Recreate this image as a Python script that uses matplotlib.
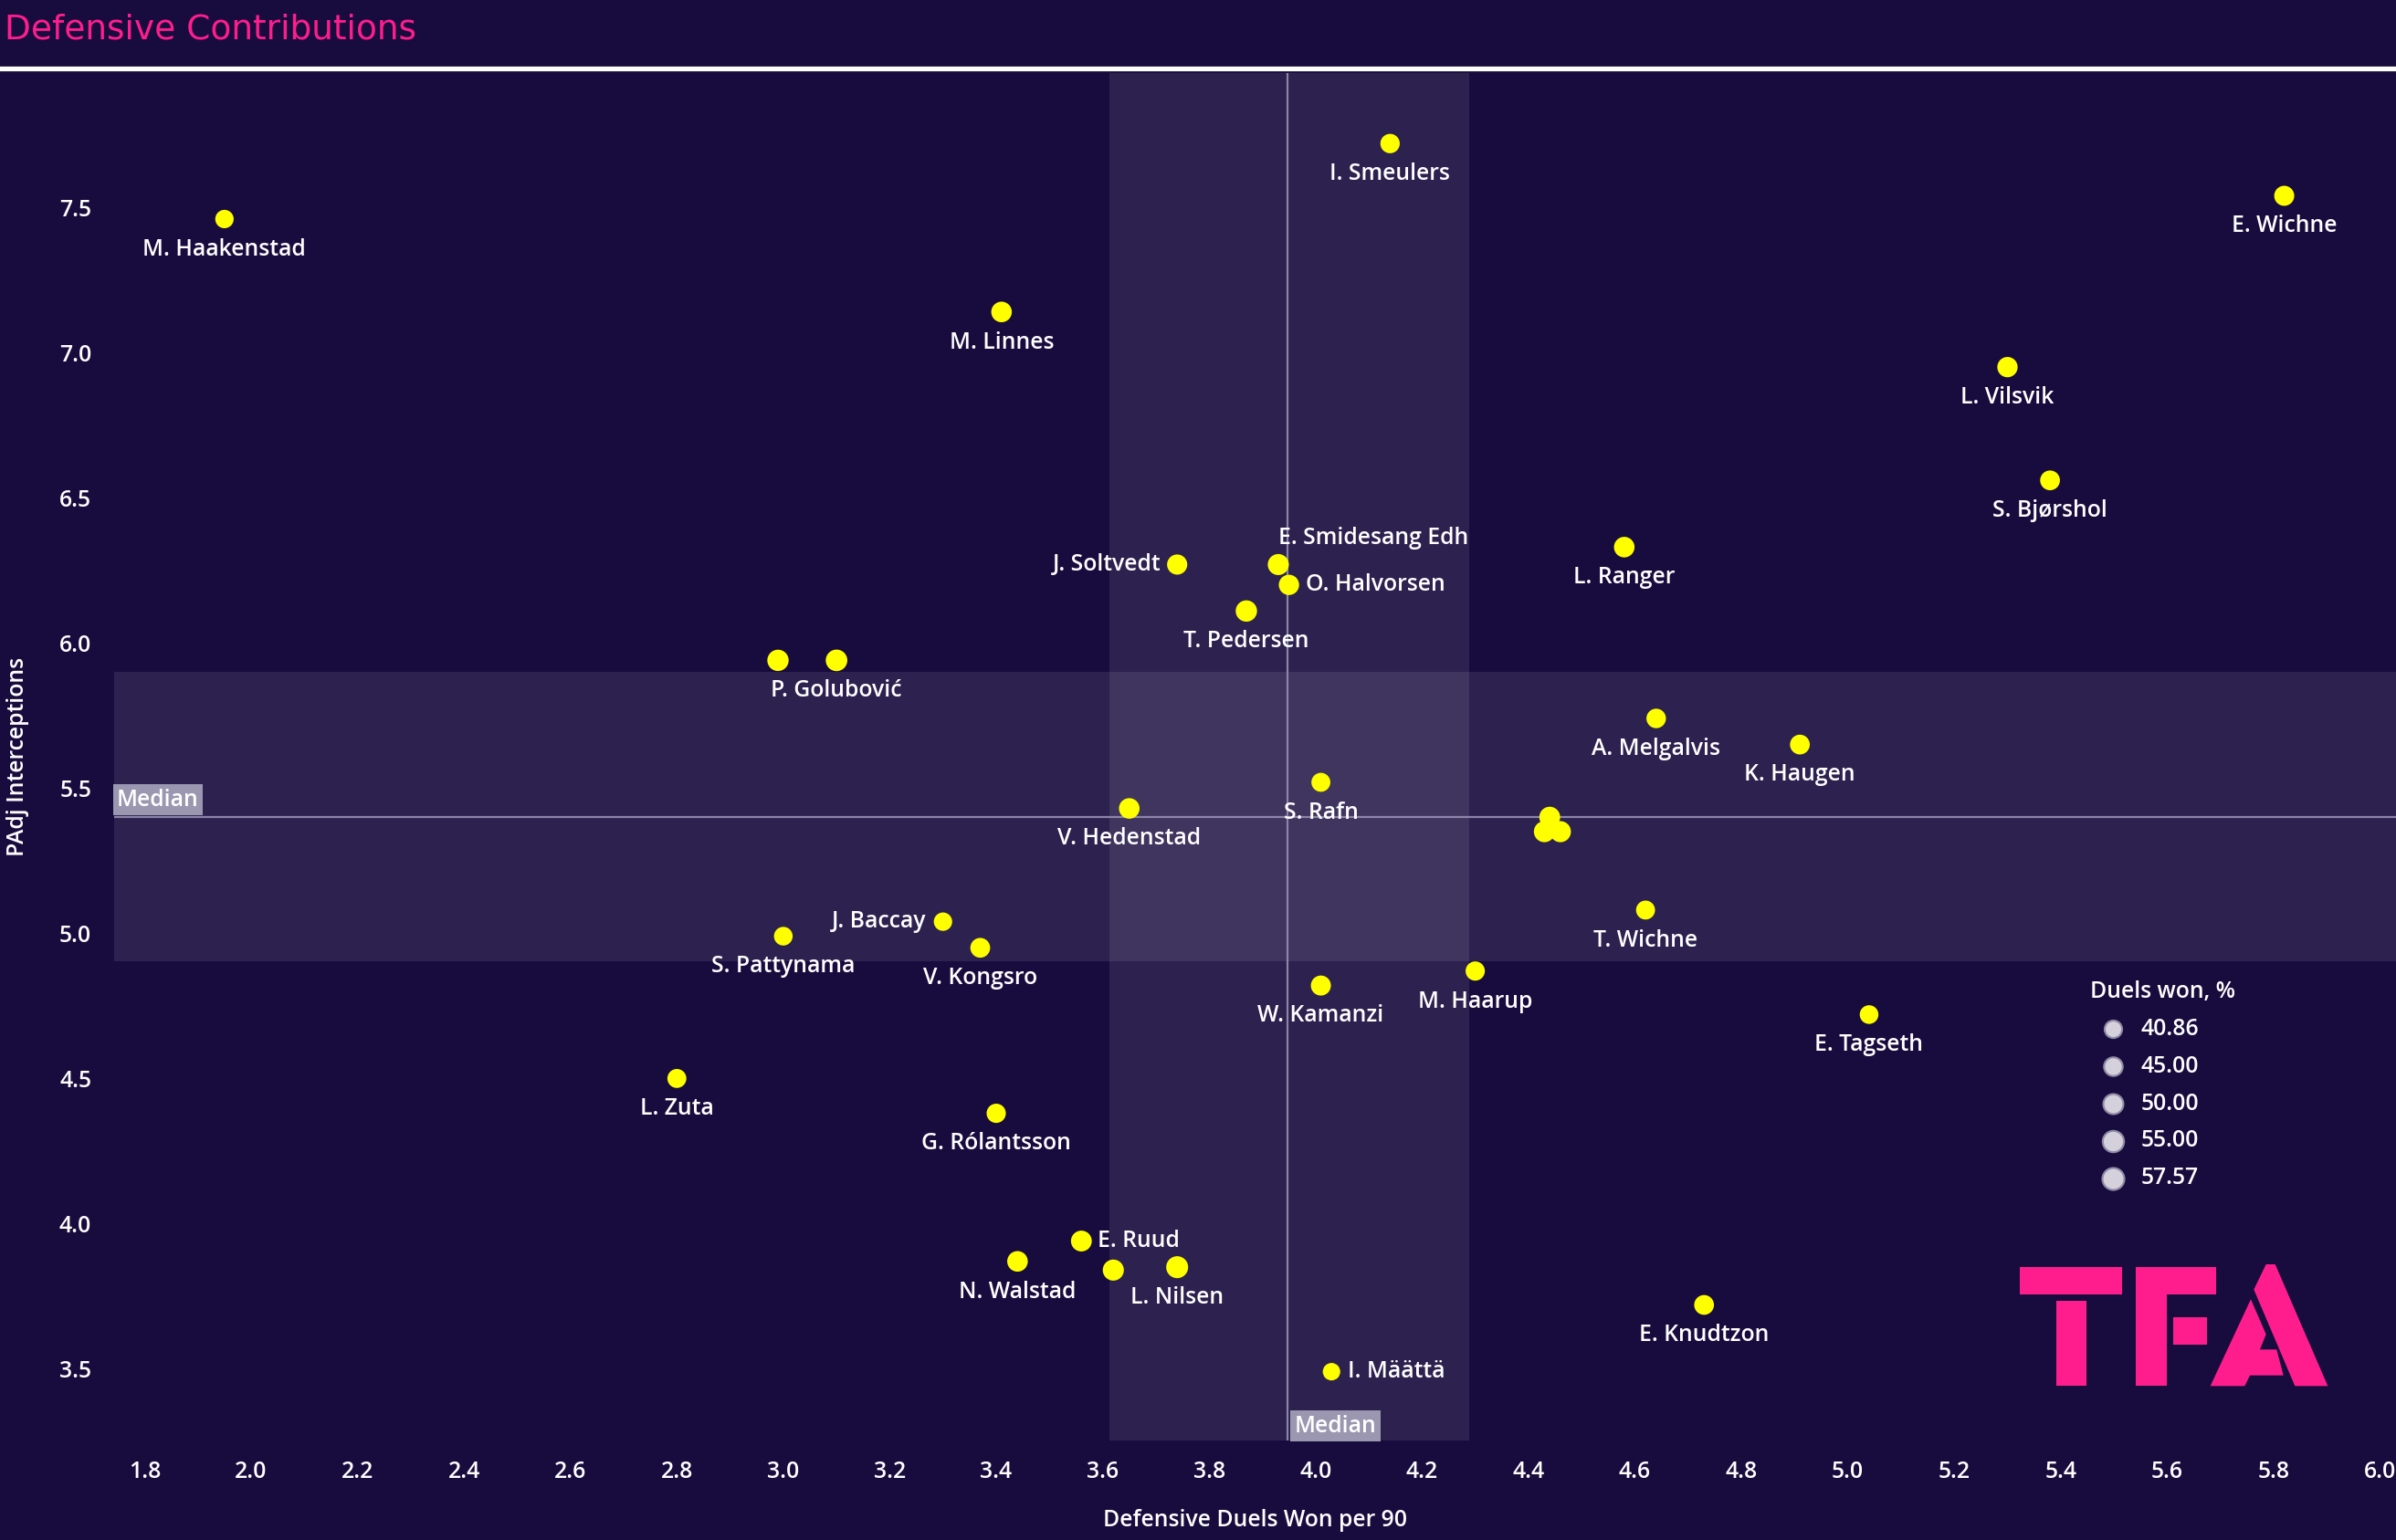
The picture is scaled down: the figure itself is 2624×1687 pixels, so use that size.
import numpy as np
import matplotlib.pyplot as plt
from matplotlib.patches import Polygon

BG = '#180c3e'
PINK = '#ff1d8e'
plt.rcParams['font.family'] = ['Open Sans', 'Noto Sans', 'DejaVu Sans']
W = 'semibold'

# player data
players = ['M. Haakenstad', 'I. Smeulers', 'E. Wichne', 'M. Linnes', 'L. Vilsvik',
           'S. Bjørshol', 'L. Ranger', 'J. Soltvedt', 'E. Smidesang Edh', 'O. Halvorsen',
           'T. Pedersen', '', 'P. Golubović', 'A. Melgalvis', 'K. Haugen',
           'S. Rafn', 'V. Hedenstad', '', '', '',
           'J. Baccay', 'S. Pattynama', 'V. Kongsro', 'T. Wichne', 'W. Kamanzi',
           'M. Haarup', 'E. Tagseth', 'L. Zuta', 'G. Rólantsson', 'E. Ruud',
           'N. Walstad', 'L. Nilsen', '', 'E. Knudtzon', 'I. Määttä']
duels_won_90 = [1.95, 4.14, 5.82, 3.41, 5.30,
                5.38, 4.58, 3.74, 3.93, 3.95,
                3.87, 2.99, 3.10, 4.64, 4.91,
                4.01, 3.65, 4.44, 4.43, 4.46,
                3.30, 3.00, 3.37, 4.62, 4.01,
                4.30, 5.04, 2.80, 3.40, 3.56,
                3.44, 3.74, 3.62, 4.73, 4.03]
interceptions = [7.46, 7.72, 7.54, 7.14, 6.95,
                 6.56, 6.33, 6.27, 6.27, 6.20,
                 6.11, 5.94, 5.94, 5.74, 5.65,
                 5.52, 5.43, 5.40, 5.35, 5.35,
                 5.04, 4.99, 4.95, 5.08, 4.82,
                 4.87, 4.72, 4.50, 4.38, 3.94,
                 3.87, 3.85, 3.84, 3.72, 3.49]
duels_won_pct = [44.0, 47.5, 50.0, 52.0, 51.0,
                 49.0, 52.0, 50.5, 54.0, 51.0,
                 55.0, 55.0, 56.0, 48.0, 49.0,
                 46.0, 52.0, 53.0, 54.0, 54.0,
                 44.0, 45.0, 49.0, 46.0, 50.0,
                 47.0, 45.0, 46.0, 47.0, 53.0,
                 52.0, 57.57, 54.0, 49.0, 40.86]
# label placement: b = below, r = right, l = left, a = above
label_pos = ['b', 'b', 'b', 'b', 'b',
             'b', 'b', 'l', 'a', 'r',
             'b', 'b', 'b', 'b', 'b',
             'b', 'b', 'b', 'b', 'b',
             'l', 'b', 'b', 'b', 'b',
             'b', 'b', 'b', 'b', 'r',
             'b', 'b', 'b', 'b', 'r']

median_x = 3.948
median_y = 5.40
band_x = (3.613, 4.289)
band_y = (4.905, 5.90)
legend_vals = [40.86, 45.00, 50.00, 55.00, 57.57]

xticks = np.arange(1.8, 6.01, 0.2)
yticks = np.arange(3.5, 7.51, 0.5)


def size_of(p):
    return 190 + (p - 40.86) / (57.57 - 40.86) * 110


fig = plt.figure(figsize=(26.24, 16.87), dpi=100, facecolor=BG)
ax = fig.add_axes([0.0477, 0.0646, 0.9523, 0.888])
ax.set_facecolor(BG)

ax.axvspan(band_x[0], band_x[1], color='white', alpha=0.09, lw=0, zorder=1)
ax.axhspan(band_y[0], band_y[1], color='white', alpha=0.09, lw=0, zorder=1)
ax.axvline(median_x, color='#8b85a8', lw=1.6, zorder=2)
ax.axhline(median_y, color='#8b85a8', lw=1.6, zorder=2)

sizes = [size_of(p) for p in duels_won_pct]
ax.scatter(duels_won_90, interceptions, s=sizes, c='#ffff00', edgecolors='none', zorder=4)

for name, x, y, pos in zip(players, duels_won_90, interceptions, label_pos):
    if not name:
        continue
    if pos == 'b':
        off, ha, va = (0, -24), 'center', 'center'
    elif pos == 'r':
        off, ha, va = (13, 0), 'left', 'center'
    elif pos == 'l':
        off, ha, va = (-13, 0), 'right', 'center'
    else:
        off, ha, va = (0, 21), 'left', 'center'
    ax.annotate(name, (x, y), xytext=off, textcoords='offset points', ha=ha, va=va,
                color='white', fontsize=17.8, fontweight=W, zorder=5)

ax.set_xlim(1.743, 6.03)
ax.set_ylim(3.253, 7.963)
ax.set_xticks(xticks)
ax.set_xticklabels(['%.1f' % v for v in xticks])
ax.set_yticks(yticks)
ax.set_yticklabels(['%.1f' % v for v in yticks])
ax.tick_params(colors='white', labelsize=17.8, length=0)
ax.tick_params(axis='x', pad=16)
ax.tick_params(axis='y', pad=18)
for lbl in ax.get_xticklabels() + ax.get_yticklabels():
    lbl.set_fontweight(W)
for s in ax.spines.values():
    s.set_visible(False)

ax.set_xlabel('Defensive Duels Won per 90', color='white', fontsize=17.8, fontweight=W, labelpad=20)
ax.set_ylabel('PAdj Interceptions', color='white', fontsize=17.8, fontweight=W, labelpad=24)

# median tags
box = dict(boxstyle='square,pad=0.18', fc='#9b97b1', ec='none')
ax.text(1.748, median_y + 0.02, 'Median', color='white', fontsize=17.8, fontweight=W,
        ha='left', va='bottom', bbox=box, zorder=6)
ax.text(median_x + 0.012, 3.264, 'Median', color='white', fontsize=17.8, fontweight=W,
        ha='left', va='bottom', bbox=box, zorder=6)

# size legend
handles = [ax.scatter([], [], s=size_of(v), c='#d4d1dc', edgecolors='#8e8aa4', linewidths=1.5)
           for v in legend_vals]
leg = ax.legend(handles, ['%.2f' % v for v in legend_vals], title='Duels won, %',
                loc='upper left', bbox_to_anchor=(0.862, 0.343), frameon=False,
                labelcolor='white', title_fontsize=17.8, alignment='left',
                labelspacing=0.64, handletextpad=0.25, borderaxespad=0,
                prop={'weight': W, 'size': 17.8})
leg.get_title().set_color('white')
leg.get_title().set_fontweight(W)

# title and rule
fig.text(0.002, 0.9805, 'Defensive Contributions', color=PINK, fontsize=27,
         family='DejaVu Sans', ha='left', va='center')
fig.add_artist(plt.Line2D([0, 1], [0.9553, 0.9553], transform=fig.transFigure,
                          color='white', lw=3.8))

# TFA mark
lax = fig.add_axes([2180 / 2624, 1 - 1560 / 1687, 400 / 2624, 200 / 1687])
lax.set_xlim(0, 1200)
lax.set_ylim(600, 0)
lax.axis('off')
shapes = [
    [(95, 85), (432, 85), (432, 175), (95, 175)],
    [(215, 195), (315, 195), (315, 475), (215, 475)],
    [(478, 85), (742, 85), (742, 175), (578, 175), (578, 475), (478, 475)],
    [(600, 250), (712, 250), (712, 340), (600, 340)],
    [(722, 475), (855, 190), (905, 305), (885, 355), (940, 355), (962, 440), (852, 440), (835, 475)],
    [(865, 158), (905, 75), (935, 75), (1108, 475), (1000, 475)],
]
for pts in shapes:
    lax.add_patch(Polygon(pts, closed=True, fc=PINK, ec='none'))

fig.savefig('out.png', dpi=100, facecolor=BG)
